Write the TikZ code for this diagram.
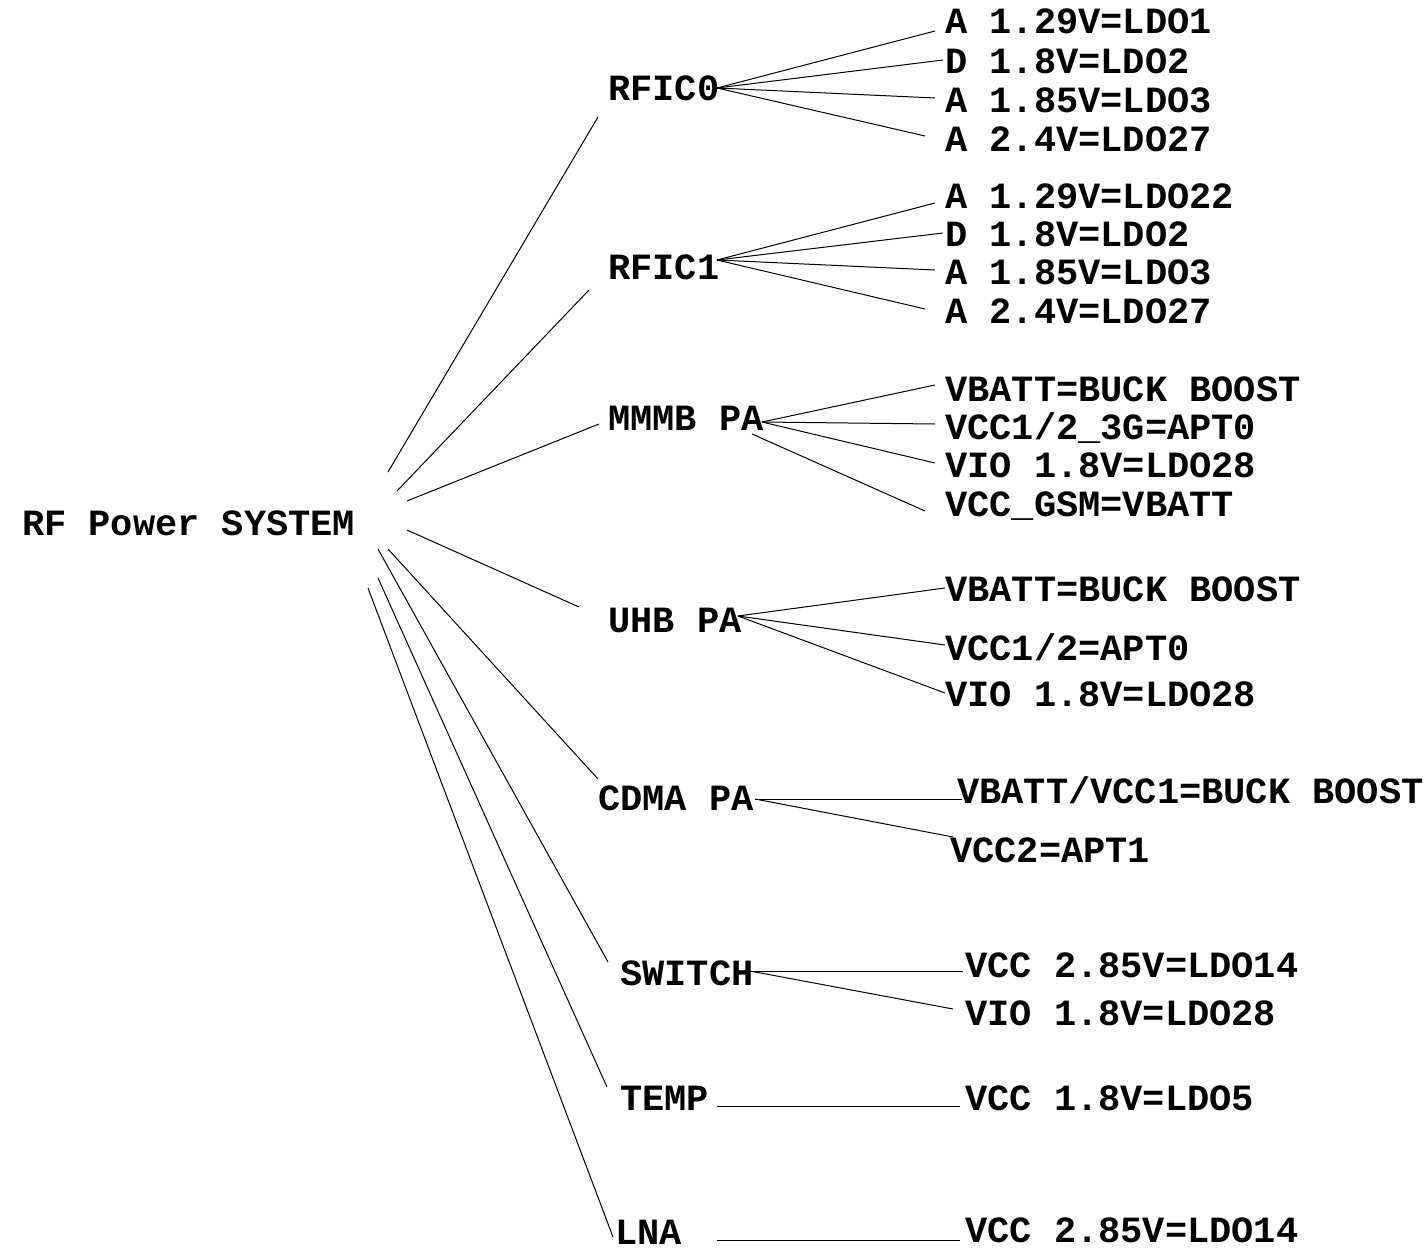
\documentclass[tikz,border=0pt]{standalone}
\usepackage{fontspec}
\setmainfont{Liberation Mono}
\begin{document}
\begin{tikzpicture}[x=1pt,y=-1pt,
  lbl/.style={anchor=base west,inner sep=0pt,font=\fontsize{37}{40}\selectfont\bfseries},
  wire/.style={draw=black,line width=1pt}]
\useasboundingbox[fill=white] (0,0) rectangle (1427,1250);
% root
\node[lbl] (root) at (22,535) {RF Power SYSTEM};
% groups
\node[lbl] (rfic0) at (608,100) {RFIC0};
\node[lbl] (rfic1) at (608,279) {RFIC1};
\node[lbl] (mmmb) at (608,430) {MMMB PA};
\node[lbl] (uhb) at (608,632) {UHB PA};
\node[lbl] (cdma) at (598,810) {CDMA PA};
\node[lbl] (sw) at (620,985) {SWITCH};
\node[lbl] (temp) at (620,1110) {TEMP};
\node[lbl] (lna) at (615,1244) {LNA};
% leaves
\node[lbl] (a1) at (945,34) {A 1.29V=LDO1};
\node[lbl] (a2) at (945,73) {D 1.8V=LDO2};
\node[lbl] (a3) at (945,112) {A 1.85V=LDO3};
\node[lbl] (a4) at (945,151) {A 2.4V=LDO27};
\node[lbl] (b1) at (945,208) {A 1.29V=LDO22};
\node[lbl] (b2) at (945,246) {D 1.8V=LDO2};
\node[lbl] (b3) at (945,284) {A 1.85V=LDO3};
\node[lbl] (b4) at (945,323) {A 2.4V=LDO27};
\node[lbl] (c1) at (945,401) {VBATT=BUCK BOOST};
\node[lbl] (c2) at (945,439) {VCC1/2\_3G=APT0};
\node[lbl] (c3) at (945,477) {VIO 1.8V=LDO28};
\node[lbl] (c4) at (945,516) {VCC\_GSM=VBATT};
\node[lbl] (d1) at (945,601) {VBATT=BUCK BOOST};
\node[lbl] (d2) at (945,660) {VCC1/2=APT0};
\node[lbl] (d3) at (945,706) {VIO 1.8V=LDO28};
\node[lbl] (e1) at (957,803) {VBATT/VCC1=BUCK BOOST};
\node[lbl] (e2) at (950,862) {VCC2=APT1};
\node[lbl] (f1) at (965,977) {VCC 2.85V=LDO14};
\node[lbl] (f2) at (965,1025) {VIO 1.8V=LDO28};
\node[lbl] (g1) at (965,1110) {VCC 1.8V=LDO5};
\node[lbl] (h1) at (965,1242) {VCC 2.85V=LDO14};
% trunk coordinates
\coordinate (t0) at (388,472); \coordinate (u0) at (598,117);
\coordinate (t1) at (397,491); \coordinate (u1) at (589,290);
\coordinate (t2) at (407,501); \coordinate (u2) at (599,424);
\coordinate (t3) at (407,530); \coordinate (u3) at (579,607);
\coordinate (t4) at (388,549); \coordinate (u4) at (598,779);
\coordinate (t5) at (378,549); \coordinate (u5) at (608,962);
\coordinate (t6) at (378,578); \coordinate (u6) at (607,1087);
\coordinate (t7) at (368,588); \coordinate (u7) at (613,1237);
\foreach \i in {0,...,7} \draw[wire] (t\i) -- (u\i);
% RFIC0
\coordinate (h0) at (717,88);
\coordinate (p1) at (935,31); \coordinate (p2) at (943,60);
\coordinate (p3) at (935,98); \coordinate (p4) at (925,136);
\foreach \p in {p1,p2,p3,p4} \draw[wire] (h0) -- (\p);
% RFIC1
\coordinate (h1c) at (717,260);
\coordinate (q1) at (935,203); \coordinate (q2) at (943,233);
\coordinate (q3) at (935,270); \coordinate (q4) at (925,309);
\foreach \p in {q1,q2,q3,q4} \draw[wire] (h1c) -- (\p);
% MMMB
\coordinate (h2) at (762,422);
\coordinate (r1) at (935,385); \coordinate (r2) at (935,424);
\coordinate (r3) at (935,463);
\coordinate (r4s) at (752,434); \coordinate (r4) at (925,511);
\foreach \p in {r1,r2,r3} \draw[wire] (h2) -- (\p);
\draw[wire] (r4s) -- (r4);
% UHB
\coordinate (h3) at (738,616);
\coordinate (s1) at (945,588); \coordinate (s2) at (945,645); \coordinate (s3) at (945,693);
\foreach \p in {s1,s2,s3} \draw[wire] (h3) -- (\p);
% CDMA
\coordinate (h4) at (755,799);
\coordinate (v1) at (962,799); \coordinate (v2) at (953,837);
\draw[wire] (h4) -- (v1); \draw[wire] (h4) -- (v2);
% SWITCH
\coordinate (h5) at (750,971);
\coordinate (w1) at (963,971); \coordinate (w2) at (953,1009);
\draw[wire] (h5) -- (w1); \draw[wire] (h5) -- (w2);
% TEMP, LNA
\coordinate (h6) at (717,1106); \coordinate (x1) at (960,1106);
\draw[wire] (h6) -- (x1);
\coordinate (h7) at (717,1240); \coordinate (y1) at (960,1240);
\draw[wire] (h7) -- (y1);
\end{tikzpicture}
\end{document}
